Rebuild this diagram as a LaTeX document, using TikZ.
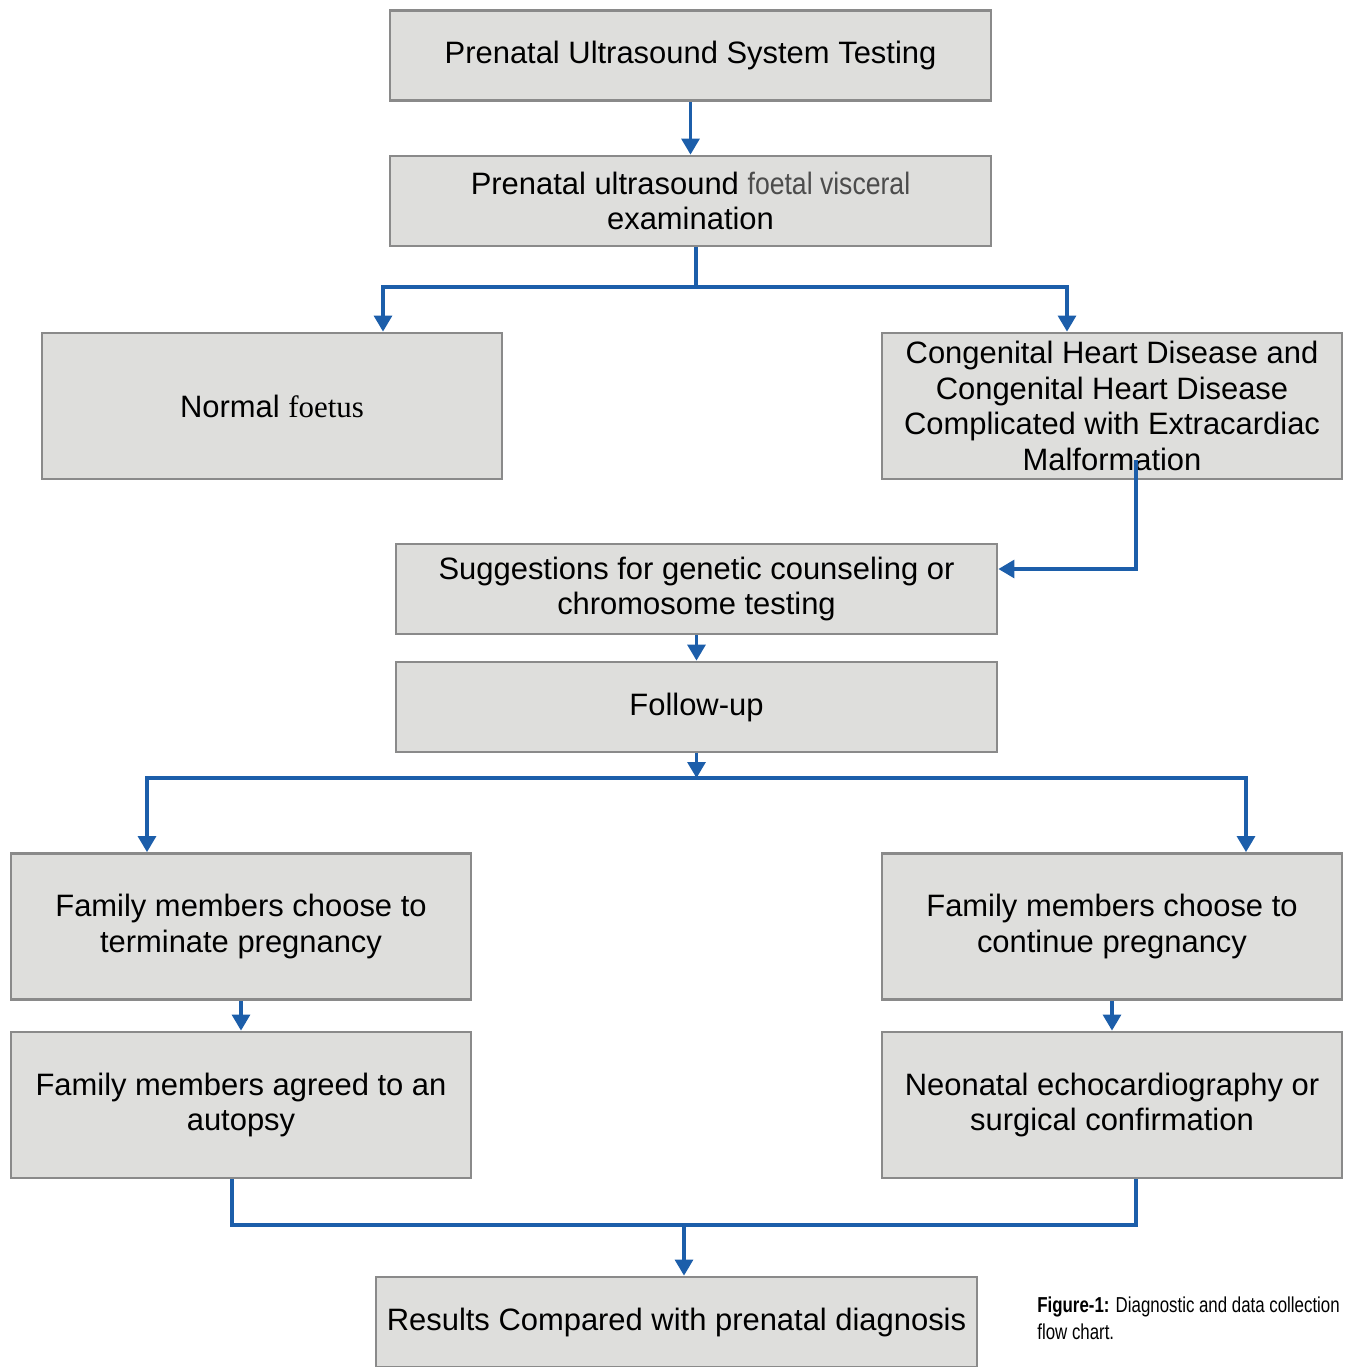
\documentclass[tikz,border=0pt]{standalone}
\usepackage{fontspec}
\setmainfont{Liberation Sans}
\newfontfamily\narrowfont[FakeStretch=0.86]{Liberation Sans}
\newfontfamily\capfont[FakeStretch=0.78]{Liberation Sans}
\newfontfamily\seriffont{Liberation Serif}
\usetikzlibrary{arrows.meta}
\definecolor{flowblue}{RGB}{28,94,170}
\definecolor{boxfill}{RGB}{222,222,220}
\definecolor{boxedge}{RGB}{138,138,138}

\begin{document}
\begin{tikzpicture}[
	box/.style={draw=boxedge, line width=1.6pt, fill=boxfill, align=center, inner sep=0pt,
		font=\fontsize{17.6}{20.2}\selectfont},
	wide/.style={box, minimum width=12.02cm, minimum height=1.8cm},
	big/.style={box, minimum width=9.2cm, minimum height=2.92cm},
	line/.style={flowblue, line width=1.8pt},
	arr/.style={line, -{Triangle[length=0.32cm, width=0.36cm]}}
	]
	\useasboundingbox (0,0) rectangle (26.98,-27.34);

	\node[wide] (top) at (13.81,-1.11) {Prenatal Ultrasound System Testing};
	\node[wide] (exam) at (13.81,-4.02) {Prenatal ultrasound {\narrowfont\color{black!70}foetal visceral}\\examination};
	\node[big] (normal) at (5.44,-8.12) {Normal {\seriffont foetus}};
	\node[big] (chd) at (22.24,-8.12) {Congenital Heart Disease and\\Congenital Heart Disease\\Complicated with Extracardiac\\Malformation};
	\node[wide] (sugg) at (13.93,-11.78) {Suggestions for genetic counseling or\\chromosome testing};
	\node[wide] (follow) at (13.93,-14.14) {Follow-up};
	\node[big] (term) at (4.82,-18.53) {Family members choose to\\terminate pregnancy};
	\node[big] (cont) at (22.24,-18.53) {Family members choose to\\continue pregnancy};
	\node[big] (autop) at (4.82,-22.10) {Family members agreed to an\\autopsy};
	\node[big] (neo) at (22.24,-22.10) {Neonatal echocardiography or\\surgical confirmation};
	\node[wide] (res) at (13.53,-26.44) {Results Compared with prenatal diagnosis};

	\node[anchor=north west, align=left, inner sep=0pt, font=\capfont\fontsize{12.3}{15.5}\selectfont]
		(cap) at (20.74,-25.92) {\textbf{Figure-1:} Diagnostic and data collection\\flow chart.};

	\coordinate (j1) at (13.92,-5.74);
	\coordinate (nl) at (7.66,-5.74);
	\coordinate (nr) at (21.34,-5.74);
	\coordinate (c1) at (22.72,-9.2);
	\coordinate (j2) at (13.93,-15.56);
	\coordinate (tl) at (2.94,-15.56);
	\coordinate (cr) at (24.92,-15.56);
	\coordinate (a1) at (4.64,-24.5);
	\coordinate (n1) at (22.72,-24.5);
	\coordinate (j3) at (13.68,-24.5);

	\draw[arr] (top.south) -- (exam.north);
	\draw[arr] (exam.south -| j1) -- (j1) -| (nl |- normal.north);
	\draw[arr] (j1) -| (nr |- chd.north);
	\draw[arr] (c1) |- ([yshift=0.4cm]sugg.east);
	\draw[arr] (sugg.south) -- (follow.north);
	\draw[arr] (follow.south) -- (j2);
	\draw[arr] (j2) -| (tl |- term.north);
	\draw[arr] (j2) -| (cr |- cont.north);
	\draw[arr] (term.south) -- (autop.north);
	\draw[arr] (cont.south) -- (neo.north);
	\draw[line] (autop.south -| a1) -- (a1) -- (n1) -- (neo.south -| n1);
	\draw[arr] (j3) -- (j3 |- res.north);

	\end{tikzpicture}
\end{document}
